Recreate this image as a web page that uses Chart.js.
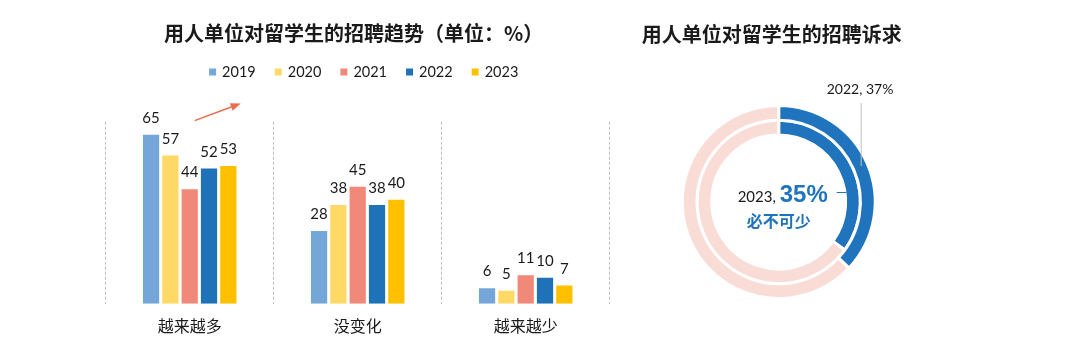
<!DOCTYPE html>
<html>
<head>
<meta charset="utf-8">
<script src="https://cdn.jsdelivr.net/npm/chart.js@4"></script>
<style>
  html, body { margin: 0; padding: 0; background: #fff; }
  body { width: 1073px; height: 361px; position: relative; overflow: hidden; }
  #barBox { position: absolute; left: 0; top: 0; width: 620px; height: 361px; }
  #ringBox { position: absolute; left: 620px; top: 0; width: 453px; height: 361px; }
</style>
</head>
<body>
<div id="barBox"><canvas id="bars"></canvas></div>
<div id="ringBox"><canvas id="ring"></canvas></div>
<script>
// --- data ---
const categories = ['越来越多', '没变化', '越来越少'];
const years = ['2019', '2020', '2021', '2022', '2023'];
const values = [
  [65, 28, 6],   // 2019
  [57, 38, 5],   // 2020
  [44, 45, 11],  // 2021
  [52, 38, 10],  // 2022
  [53, 40, 7]    // 2023
];
const yearColors = ['#74A7D7', '#FFD966', '#F0897A', '#1F72B8', '#FFC000'];

const ringLabels = ['必不可少', '其他'];
const ring2022 = [37, 63];
const ring2023 = [35, 65];
const ringColors = ['#1F74BD', '#FADCD7'];

const NUM_FONT = 'Lato, "Noto Sans CJK SC", sans-serif';
const CJK_FONT = '"Noto Sans CJK SC", sans-serif';
const INK = '#1a1a1a';

// title, custom legend, value labels, trend arrow
const barDecor = {
  id: 'barDecor',
  afterDatasetsDraw(chart) {
    const { ctx, chartArea, scales } = chart;
    const mid = (chartArea.left + chartArea.right) / 2;
    ctx.save();

    // title
    ctx.fillStyle = INK;
    ctx.font = 'bold 20px ' + CJK_FONT;
    ctx.textAlign = 'center';
    ctx.textBaseline = 'middle';
    ctx.fillText('用人单位对留学生的招聘趋势（单位：%）', mid - 4, 33);

    // legend
    ctx.font = '14.5px ' + NUM_FONT;
    const box = 7, gap = 6, space = 19;
    const items = chart.data.datasets.map(d => ({ text: d.label, color: d.backgroundColor, w: box + gap + ctx.measureText(d.label).width }));
    const total = items.reduce((s, it) => s + it.w, 0) + space * (items.length - 1);
    let x = mid + 6 - total / 2;
    ctx.textAlign = 'left';
    items.forEach(it => {
      ctx.fillStyle = it.color;
      ctx.fillRect(x, 68.5, box, box);
      ctx.fillStyle = INK;
      ctx.fillText(it.text, x + box + gap, 72.5);
      x += it.w + space;
    });

    // value labels
    ctx.font = '15px ' + NUM_FONT;
    ctx.textAlign = 'center';
    ctx.textBaseline = 'alphabetic';
    chart.data.datasets.forEach((ds, i) => {
      chart.getDatasetMeta(i).data.forEach((bar, j) => {
        ctx.fillText(ds.data[j], bar.x, bar.y - 12);
      });
    });

    // trend arrow over first group
    const x0 = scales.x.getPixelForValue(0);
    const sx = x0 + 5, sy = scales.y.getPixelForValue(70.4);
    const ex = x0 + 51, ey = scales.y.getPixelForValue(77);
    const ang = Math.atan2(ey - sy, ex - sx);
    ctx.strokeStyle = '#EC6B4F';
    ctx.fillStyle = '#EC6B4F';
    ctx.lineWidth = 1.5;
    ctx.beginPath();
    ctx.moveTo(sx, sy);
    ctx.lineTo(ex - 8 * Math.cos(ang), ey - 8 * Math.sin(ang));
    ctx.stroke();
    ctx.beginPath();
    ctx.moveTo(ex, ey);
    ctx.lineTo(ex - 10 * Math.cos(ang) + 4 * Math.sin(ang), ey - 10 * Math.sin(ang) - 4 * Math.cos(ang));
    ctx.lineTo(ex - 10 * Math.cos(ang) - 4 * Math.sin(ang), ey - 10 * Math.sin(ang) + 4 * Math.cos(ang));
    ctx.closePath();
    ctx.fill();
    ctx.restore();
  }
};

new Chart(document.getElementById('bars'), {
  type: 'bar',
  data: {
    labels: categories,
    datasets: years.map((y, i) => ({
      label: y,
      data: values[i],
      backgroundColor: yearColors[i],
      barPercentage: 0.84,
      categoryPercentage: 0.575
    }))
  },
  options: {
    responsive: true,
    maintainAspectRatio: false,
    animation: false,
    layout: { padding: { left: 105.7, right: 10.3, top: 121.7, bottom: 12 } },
    plugins: { legend: { display: false }, tooltip: { enabled: false } },
    scales: {
      x: {
        grid: {
          offset: true,
          drawTicks: false,
          color: '#BDBDBD',
          lineWidth: 1
        },
        border: { display: false, dash: [3, 2] },
        ticks: { color: INK, font: { size: 16, family: CJK_FONT }, padding: 13 }
      },
      y: { display: false, min: 0, max: 70 }
    }
  },
  plugins: [barDecor]
});

// ring chart text and leader lines
const ringDecor = {
  id: 'ringDecor',
  afterDatasetsDraw(chart) {
    const { ctx } = chart;
    const arc = chart.getDatasetMeta(0).data[0];
    const cx = arc.x, cy = arc.y;
    ctx.save();
    ctx.fillStyle = INK;
    ctx.font = 'bold 20px ' + CJK_FONT;
    ctx.textAlign = 'center';
    ctx.textBaseline = 'middle';
    ctx.fillText('用人单位对留学生的招聘诉求', cx - 7, 34);

    // outer ring label (2022)
    ctx.font = '14px ' + NUM_FONT;
    ctx.textAlign = 'left';
    ctx.fillText('2022, ' + ring2022[0] + '%', cx + 48, cy - 113);
    ctx.strokeStyle = '#BFBFBF';
    ctx.lineWidth = 1;
    ctx.beginPath();
    ctx.moveTo(cx + 82.5, cy - 99);
    ctx.lineTo(cx + 82.5, cy - 36);
    ctx.stroke();

    // inner ring label (2023)
    ctx.textBaseline = 'alphabetic';
    ctx.font = '15px ' + NUM_FONT;
    const t1 = '2023, ';
    const w1 = ctx.measureText(t1).width;
    ctx.font = 'bold 24px "Liberation Sans", Arial, sans-serif';
    const t2 = ring2023[0] + '%';
    const w2 = ctx.measureText(t2).width;
    let x = cx + 4 - (w1 + w2) / 2;
    ctx.font = '15px ' + NUM_FONT;
    ctx.fillText(t1, x, cy);
    ctx.fillStyle = ringColors[0];
    ctx.font = 'bold 24px "Liberation Sans", Arial, sans-serif';
    ctx.fillText(t2, x + w1, cy);
    ctx.font = 'bold 16px ' + CJK_FONT;
    ctx.textAlign = 'center';
    ctx.textBaseline = 'middle';
    ctx.fillText(ringLabels[0], cx, cy + 19);
    ctx.strokeStyle = ringColors[0];
    ctx.beginPath();
    ctx.moveTo(cx + 58, cy - 9.5);
    ctx.lineTo(cx + 67.5, cy - 9.5);
    ctx.stroke();
    ctx.restore();
  }
};

new Chart(document.getElementById('ring'), {
  type: 'doughnut',
  data: {
    labels: ringLabels,
    datasets: [
      { label: '2022', data: ring2022, backgroundColor: ringColors, borderColor: '#fff', borderWidth: 3 },
      { label: '2023', data: ring2023, backgroundColor: ringColors, borderColor: '#fff', borderWidth: 3 }
    ]
  },
  options: {
    responsive: true,
    maintainAspectRatio: false,
    animation: false,
    radius: 96.5,
    cutout: '69.4%',
    layout: { padding: { left: 0, right: 135.6, top: 60, bottom: 17 } },
    plugins: { legend: { display: false }, tooltip: { enabled: false } }
  },
  plugins: [ringDecor]
});
</script>
</body>
</html>
